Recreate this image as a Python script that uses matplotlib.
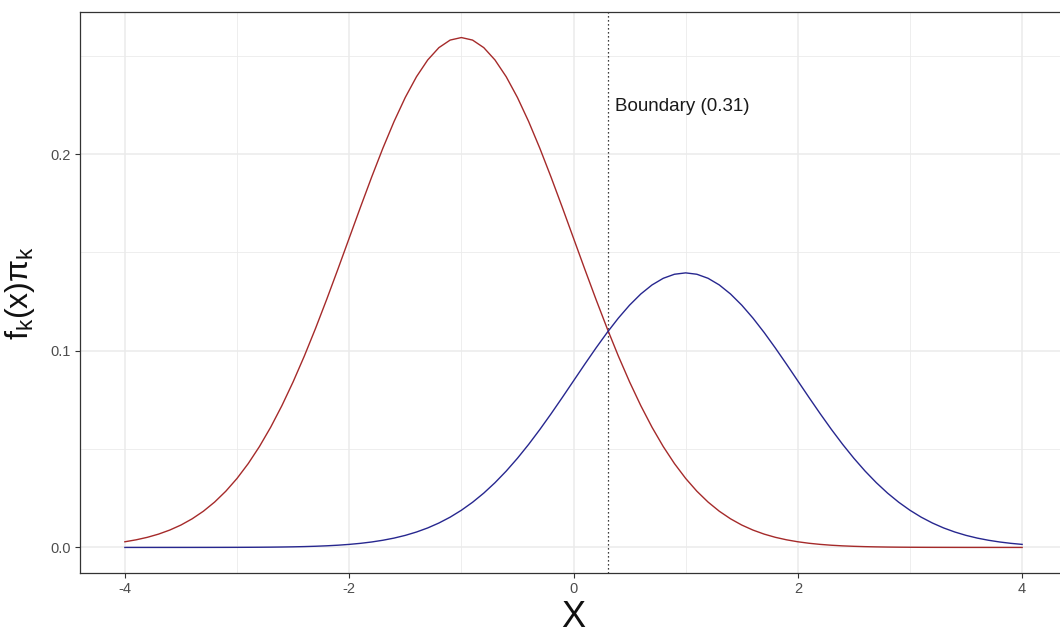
import numpy as np
import matplotlib.pyplot as plt

plt.rcParams['font.family'] = ['Liberation Sans', 'DejaVu Sans']

# grid of x values, step 0.1 from -4 to 4
x = np.round(np.linspace(-4, 4, 81), 2)

# class 1 (mean -1, prior 0.65)
red = [0.00288, 0.00387, 0.00514, 0.00677, 0.00883, 0.01139, 0.01456, 0.01841,
       0.02306, 0.02859, 0.03509, 0.04265, 0.05132, 0.06113, 0.07210, 0.08419,
       0.09732, 0.11139, 0.12622, 0.14160, 0.15728, 0.17296, 0.18830, 0.20297,
       0.21660, 0.22884, 0.23938, 0.24790, 0.25418, 0.25802, 0.25931,
       0.25802, 0.25418, 0.24790, 0.23938, 0.22884, 0.21660, 0.20297, 0.18830,
       0.17296, 0.15728, 0.14160, 0.12622, 0.11139, 0.09732, 0.08419, 0.07210,
       0.06113, 0.05132, 0.04265, 0.03509, 0.02859, 0.02306, 0.01841, 0.01456,
       0.01139, 0.00883, 0.00677, 0.00514, 0.00387, 0.00288,
       0.00212, 0.00155, 0.00112, 0.00080, 0.00057, 0.00040, 0.00028, 0.00019,
       0.00013, 0.00009, 0.00006, 0.00004, 0.00003, 0.00002, 0.00001, 0.00001,
       0.000004, 0.000003, 0.000002, 0.000001]

# class 2 (mean 1, prior 0.35)
blue = [0.0000005, 0.0000008, 0.0000014, 0.0000022, 0.0000035, 0.0000056,
        0.0000087, 0.0000135, 0.0000206, 0.0000313, 0.0000469, 0.0000697,
        0.000102, 0.000149, 0.000214, 0.000306, 0.000431, 0.000603, 0.000834,
        0.00114, 0.00155, 0.00208, 0.00277, 0.00365, 0.00475, 0.00613, 0.00784,
        0.00991, 0.01242, 0.01539, 0.01890, 0.02297, 0.02763, 0.03292, 0.03882,
        0.04533, 0.05240, 0.05998, 0.06797, 0.07625, 0.08469, 0.09313, 0.10139,
        0.10929, 0.11663, 0.12322, 0.12889, 0.13349, 0.13687, 0.13893, 0.13963,
        0.13893, 0.13687, 0.13349, 0.12889, 0.12322, 0.11663, 0.10929, 0.10139,
        0.09313, 0.08469, 0.07625, 0.06797, 0.05998, 0.05240, 0.04533, 0.03882,
        0.03292, 0.02763, 0.02297, 0.01890, 0.01539, 0.01242, 0.00991, 0.00784,
        0.00613, 0.00475, 0.00365, 0.00277, 0.00208, 0.00155]

boundary = 0.31

fig = plt.figure(figsize=(10.6, 6.36), dpi=100)
ax = fig.add_axes([80 / 1060, 1 - 573 / 636, 987 / 1060, 561 / 636])

ax.plot(x, red, color='#a52a2a', lw=1.0, zorder=3)
ax.plot(x, blue, color='#27278f', lw=1.0, zorder=3)
ax.axvline(boundary, color='black', lw=0.9, ls=(0, (1, 2.2)), zorder=2)
ax.text(boundary + 0.06, 0.224, 'Boundary (%.2f)' % boundary,
        fontsize=13.5, color='#1a1a1a', va='center', ha='left')

ax.set_xlim(-4.4, 4.4)
ax.set_ylim(-0.013, 0.2723)
ax.set_xticks([-4, -2, 0, 2, 4])
ax.set_xticklabels(['-4', '-2', '0', '2', '4'])
ax.set_yticks([0.0, 0.1, 0.2])
ax.set_yticklabels(['0.0', '0.1', '0.2'])
ax.set_xticks([-3, -1, 1, 3], minor=True)
ax.set_yticks([0.05, 0.15, 0.25], minor=True)

ax.grid(which='major', color='#ebebeb', lw=1.1, zorder=0)
ax.grid(which='minor', color='#ebebeb', lw=0.6, zorder=0)
ax.set_axisbelow(True)
ax.tick_params(which='major', length=3.5, width=0.8, color='#333333',
               labelsize=10.5, labelcolor='#4d4d4d', pad=3)
ax.tick_params(which='minor', length=0)
for s in ax.spines.values():
    s.set_color('#333333')
    s.set_linewidth(0.9)

ax.set_xlabel('X', fontsize=26, color='#111111', labelpad=3)
ax.set_ylabel(r'$\mathregular{f_k(x)\pi_k}$', fontsize=23,
              color='#111111', labelpad=10)

fig.savefig('out.png', dpi=100)
